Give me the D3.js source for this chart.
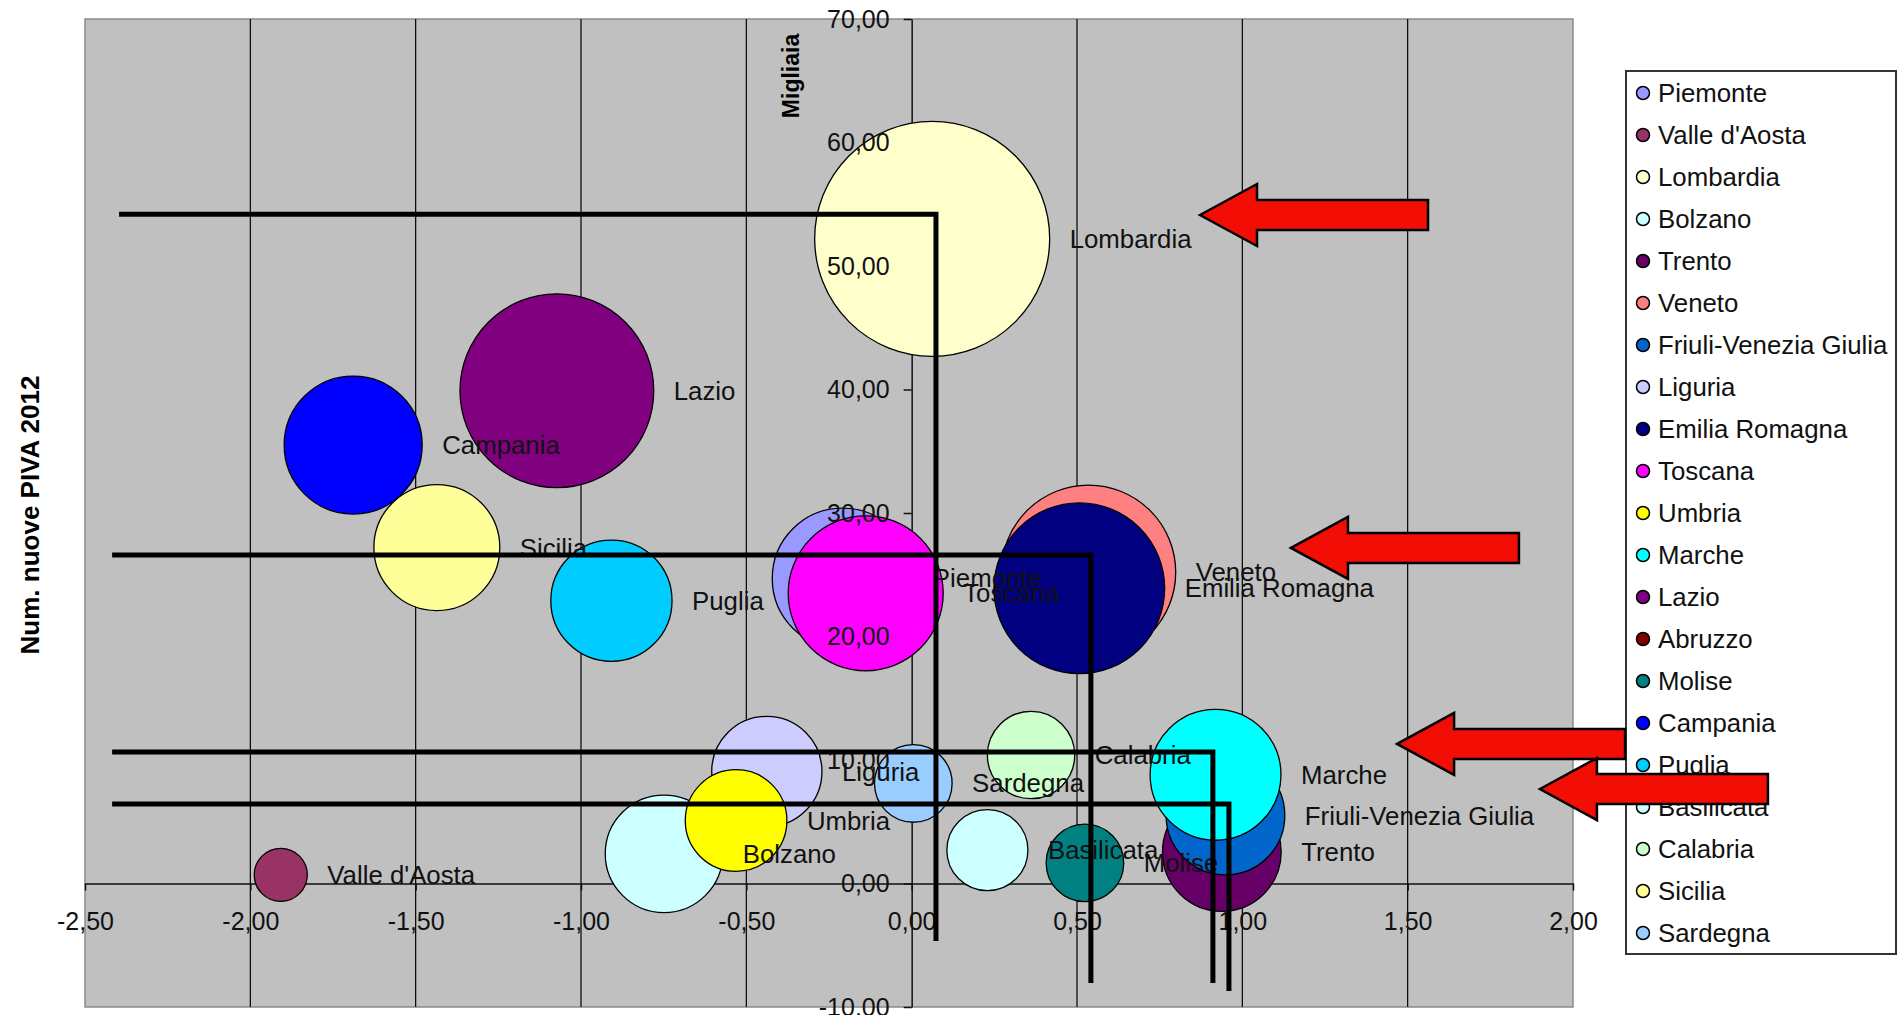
<!DOCTYPE html>
<html><head><meta charset="utf-8">
<script src="https://cdn.jsdelivr.net/npm/d3@7"></script>
<style>
body{margin:0;background:#fff;}
text{font-family:"Liberation Sans",Arial,sans-serif;}
</style>
</head><body>
<svg id="chart" width="1899" height="1015"></svg>
<script>
// ---- data ----
const regions = ["Piemonte","Valle d'Aosta","Lombardia","Bolzano","Trento","Veneto","Friuli-Venezia Giulia","Liguria","Emilia Romagna","Toscana","Umbria","Marche","Lazio","Abruzzo","Molise","Campania","Puglia","Basilicata","Calabria","Sicilia","Sardegna"];
const regionColors = ["#9999FF","#993366","#FFFFCC","#CCFFFF","#660066","#FF8080","#0066CC","#CCCCFF","#000080","#FF00FF","#FFFF00","#00FFFF","#800080","#800000","#008080","#0000FF","#00CCFF","#CCFFFF","#CCFFCC","#FFFF99","#99CCFF"];
const xValues = [-0.209,-1.908,0.062,-0.749,0.938,0.535,0.949,-0.438,0.507,-0.139,-0.531,0.919,-1.073,null,0.524,-1.689,-0.908,0.229,0.361,-1.436,0.005];
const yValues = [24.7,0.7,52.2,2.4,2.55,25.2,5.5,9.07,23.9,23.5,5.1,8.8,39.9,null,1.67,35.5,22.9,2.7,10.4,27.2,8.1];
const bubbleSizes = [35.8,5.1,100,25,25.5,55,25.5,22,52.8,43.5,18.7,31,68,null,10.9,34.5,26.6,11.9,13.8,28.7,10.9];
const xTicks = [-2.5,-2,-1.5,-1,-0.5,0,0.5,1,1.5,2];
const yTicks = [-10,0,10,20,30,40,50,60,70];
const yTitle = "Num. nuove PIVA 2012";
const unitLabel = "Migliaia";
// annotation guide lines (data units)
const guideStartX = [-2.397,-2.418,-2.418,-2.418];
const guideY = [54.2,26.6,10.65,6.44];
const guideX = [0.0735,0.542,0.911,0.9595];
const guideBottomY = [-4.66,-8.06,-8.06,-8.7];
// annotation arrows: tip positions (data units)
const arrowTipX = [0.872,1.147,1.468,1.900];
const arrowTipY = [54.13,27.17,11.3,7.65];

// ---- layout ----
const svg = d3.select("#chart");
const P = {left:85,right:1573,top:19,bottom:1007};
const x = d3.scaleLinear().domain([-2.5,2]).range([P.left,P.right]);
const y = d3.scaleLinear().domain([-10,70]).range([P.bottom,P.top]);
const r = d3.scaleSqrt().domain([0,100]).range([0,117.5]);
const loc = d3.formatLocale({decimal:",",thousands:".",grouping:[3],currency:["€",""],minus:"-"});
const fmt = loc.format(".2f");
const FS = 25.8, TFS = 25;

const data = regions.map((name,i)=>({name,color:regionColors[i],x:xValues[i],y:yValues[i],s:bubbleSizes[i]}));
const shown = data.filter(d=>d.x!==null);

// plot area
svg.append("rect").attr("x",P.left).attr("y",P.top).attr("width",P.right-P.left).attr("height",P.bottom-P.top)
  .attr("fill","#c0c0c0").attr("stroke","#8a8a8a").attr("stroke-width",1.5);

// vertical gridlines
svg.append("g").selectAll("line").data(xTicks.filter(v=>v>-2.5&&v<2&&v!==0)).join("line")
  .attr("x1",d=>x(d)).attr("x2",d=>x(d)).attr("y1",P.top).attr("y2",P.bottom)
  .attr("stroke","#000").attr("stroke-width",1.2);

// axis lines (behind bubbles)
const gx = svg.append("g").attr("transform",`translate(0,${y(0)})`)
  .call(d3.axisBottom(x).tickValues(xTicks).tickSize(7).tickSizeOuter(0).tickFormat(""));
const gy = svg.append("g").attr("transform",`translate(${x(0)},0)`)
  .call(d3.axisLeft(y).tickValues(yTicks).tickSize(8).tickSizeOuter(0).tickFormat(""));
[gx,gy].forEach(g=>{g.selectAll("path,line").attr("stroke","#111").attr("stroke-width",1.5);g.selectAll("text").remove();});

// bubbles
svg.append("g").selectAll("circle").data(shown).join("circle")
  .attr("cx",d=>x(d.x)).attr("cy",d=>y(d.y)).attr("r",d=>r(d.s))
  .attr("fill",d=>d.color).attr("stroke","#000").attr("stroke-width",1.3);

// data labels
svg.append("g").selectAll("text").data(shown).join("text")
  .attr("x",d=>x(d.x)+r(d.s)+20).attr("y",d=>y(d.y)).attr("dy","0.35em")
  .attr("font-size",FS).attr("fill","#111").text(d=>d.name);

// tick labels (on top of bubbles)
const gxl = svg.append("g").attr("transform",`translate(0,${y(0)})`)
  .call(d3.axisBottom(x).tickValues(xTicks).tickSize(7).tickPadding(22).tickFormat(fmt));
gxl.select(".domain").remove(); gxl.selectAll("line").remove();
const gyl = svg.append("g").attr("transform",`translate(${x(0)},0)`)
  .call(d3.axisLeft(y).tickValues(yTicks).tickSize(8).tickPadding(14).tickFormat(fmt));
gyl.select(".domain").remove(); gyl.selectAll("line").remove();
[gxl,gyl].forEach(g=>{g.attr("font-family",null).attr("font-size",null);
  g.selectAll("text").attr("font-size",TFS).attr("fill","#111");});

// titles
svg.append("text").attr("transform",`translate(39,515) rotate(-90)`).attr("text-anchor","middle")
  .attr("font-size",26).attr("font-weight","bold").attr("fill","#000").text(yTitle);
svg.append("text").attr("transform",`translate(799,76) rotate(-90)`).attr("text-anchor","middle")
  .attr("font-size",23).attr("font-weight","bold").attr("fill","#000").text(unitLabel);

// legend
const L = {left:1626,top:71,right:1896,bottom:954,first:93,step:42};
svg.append("rect").attr("x",L.left).attr("y",L.top).attr("width",L.right-L.left).attr("height",L.bottom-L.top)
  .attr("fill","#fff").attr("stroke","#333").attr("stroke-width",2);
const lg = svg.append("g").selectAll("g").data(data).join("g")
  .attr("transform",(d,i)=>`translate(${L.left},${L.first+i*L.step})`);
lg.append("circle").attr("cx",17).attr("cy",0).attr("r",6.5).attr("fill",d=>d.color).attr("stroke","#000").attr("stroke-width",1.5);
lg.append("text").attr("x",32).attr("dy","0.35em").attr("font-size",FS).attr("fill","#111").text(d=>d.name);

// guide lines
svg.append("g").selectAll("path").data(guideY.map((v,i)=>i)).join("path")
  .attr("d",i=>`M${x(guideStartX[i])},${y(guideY[i])}H${x(guideX[i])}V${y(guideBottomY[i])}`)
  .attr("fill","none").attr("stroke","#000").attr("stroke-width",5).attr("stroke-linejoin","miter");

// arrows
const HEAD=57, LEN=228, HH=31, SH=15;
svg.append("g").selectAll("path").data(arrowTipX.map((v,i)=>i)).join("path")
  .attr("d",i=>{const tx=x(arrowTipX[i]),ty=y(arrowTipY[i]);
    return `M${tx},${ty}L${tx+HEAD},${ty-HH}V${ty-SH}H${tx+LEN}V${ty+SH}H${tx+HEAD}V${ty+HH}Z`;})
  .attr("fill","#F20D05").attr("stroke","#000").attr("stroke-width",2.5);
</script>
</body></html>
